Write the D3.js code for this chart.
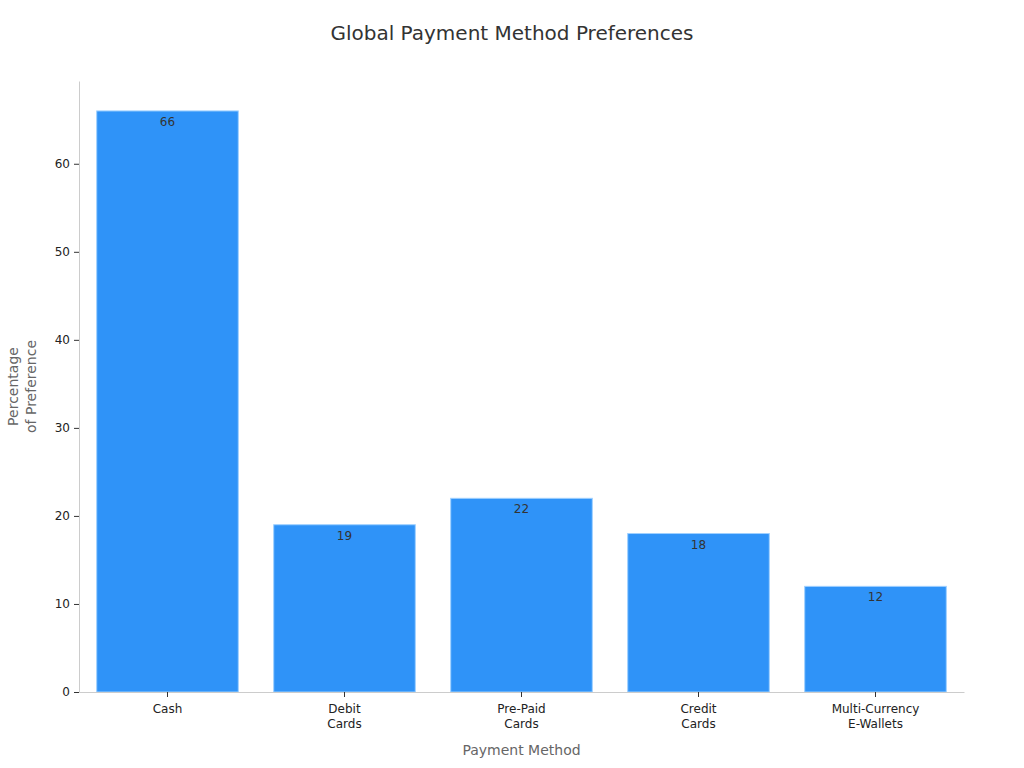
<!DOCTYPE html>
<html>
<head>
<meta charset="utf-8">
<script src="https://cdn.jsdelivr.net/npm/d3@7"></script>
<style>
body { margin: 0; background: #fff; }
svg { font-family: "DejaVu Sans", sans-serif; }
</style>
</head>
<body>
<script>
// chart data
var methods = ["Cash", "Debit\nCards", "Pre-Paid\nCards", "Credit\nCards", "Multi-Currency\nE-Wallets"];
var shares = [66, 19, 22, 18, 12];
var yTicks = [0, 10, 20, 30, 40, 50, 60];

var width = 1024, height = 768;
var margin = {top: 81, right: 60, bottom: 76, left: 79};

var svg = d3.select("body").append("svg")
    .attr("width", width)
    .attr("height", height);

var x = d3.scaleBand()
    .domain(methods)
    .range([margin.left, width - margin.right])
    .paddingInner(0.2)
    .paddingOuter(0.1);

var y = d3.scaleLinear()
    .domain([0, 69.4])
    .range([height - margin.bottom, margin.top]);

// title
svg.append("text")
    .attr("x", width / 2)
    .attr("y", 40)
    .attr("text-anchor", "middle")
    .attr("font-size", 20)
    .attr("fill", "#333")
    .text("Global Payment Method Preferences");

// bars
svg.selectAll("rect.bar")
    .data(shares)
    .enter().append("rect")
    .attr("class", "bar")
    .attr("x", function(d, i) { return x(methods[i]); })
    .attr("y", function(d) { return y(d); })
    .attr("width", x.bandwidth())
    .attr("height", function(d) { return y(0) - y(d); })
    .attr("fill", "#2f93f8")
    .attr("stroke", "#9fd0ff")
    .attr("stroke-width", 1);

// value labels
svg.selectAll("text.val")
    .data(shares)
    .enter().append("text")
    .attr("class", "val")
    .attr("x", function(d, i) { return x(methods[i]) + x.bandwidth() / 2; })
    .attr("y", function(d) { return y(d) + 15; })
    .attr("text-anchor", "middle")
    .attr("font-size", 12)
    .attr("fill", "#333")
    .text(function(d) { return d; });

// y axis
var yAxis = svg.append("g")
    .attr("transform", "translate(" + margin.left + ",0)")
    .call(d3.axisLeft(y).tickValues(yTicks).tickSizeInner(5).tickSizeOuter(0).tickPadding(4));
yAxis.select(".domain").attr("stroke", "#ccc");
yAxis.selectAll(".tick line").attr("stroke", "#333");
yAxis.selectAll(".tick text").attr("font-size", 12).attr("fill", "#222")
    .attr("font-family", "DejaVu Sans, sans-serif");

// x axis
var xAxis = svg.append("g")
    .attr("transform", "translate(0," + (height - margin.bottom) + ")")
    .call(d3.axisBottom(x).tickSize(5).tickSizeOuter(0).tickPadding(7));
xAxis.select(".domain").attr("stroke", "#ccc");
xAxis.selectAll(".tick line").attr("stroke", "#333");
xAxis.selectAll(".tick text").each(function(d) {
    var t = d3.select(this);
    t.text(null)
     .attr("font-size", 12)
     .attr("fill", "#222")
     .attr("font-family", "DejaVu Sans, sans-serif");
    d.split("\n").forEach(function(line, j) {
        t.append("tspan")
         .attr("x", 0)
         .attr("dy", j === 0 ? "0.71em" : "1.33em")
         .text(line);
    });
});
xAxis.selectAll(".tick text").attr("dy", null);

// axis titles
svg.append("text")
    .attr("x", (margin.left + width - margin.right) / 2)
    .attr("y", 755)
    .attr("text-anchor", "middle")
    .attr("font-size", 14)
    .attr("fill", "#666")
    .text("Payment Method");

var yTitle = svg.append("text")
    .attr("transform", "translate(18," + ((margin.top + height - margin.bottom) / 2) + ") rotate(-90)")
    .attr("text-anchor", "middle")
    .attr("font-size", 14)
    .attr("fill", "#666");
yTitle.append("tspan").attr("x", 0).attr("dy", 0).text("Percentage");
yTitle.append("tspan").attr("x", 0).attr("dy", 18).text("of Preference");
</script>
</body>
</html>
